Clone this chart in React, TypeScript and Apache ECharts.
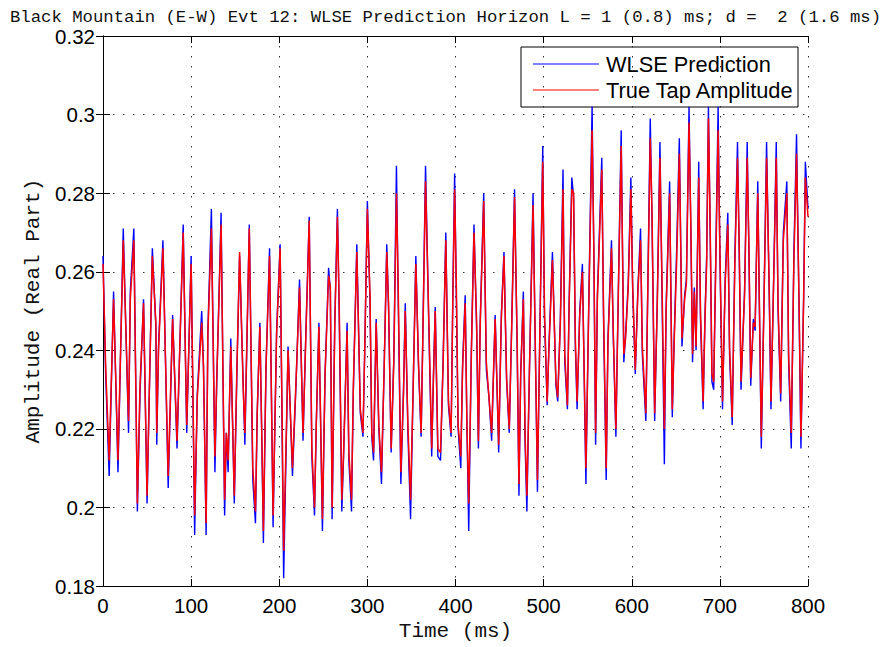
import React, { useEffect, useRef } from "react";
import * as echarts from "echarts";

const titleText = "Black Mountain (E-W) Evt 12: WLSE Prediction Horizon L = 1 (0.8) ms; d =  2 (1.6 ms)";
const xAxisName = "Time (ms)";
const yAxisName = "Amplitude (Real Part)";
const seriesNames = ["WLSE Prediction", "True Tap Amplitude"];

const timeMs = [
  0, 3, 7, 12, 17, 23, 29, 31, 35, 39,
  42, 46, 50, 53, 56, 60, 61, 63, 68, 74,
  79, 84, 91, 95, 100, 104, 107, 112, 114, 117,
  119, 123, 127, 129, 134, 138, 140, 142, 145, 149,
  152, 155, 159, 161, 166, 170, 173, 175, 178, 180,
  182, 185, 189, 193, 197, 201, 205, 208, 210, 215,
  219, 223, 227, 230, 234, 237, 240, 242, 245, 249,
  252, 256, 258, 260, 263, 266, 268, 271, 273, 277,
  279, 282, 284, 288, 292, 295, 297, 300, 303, 305,
  307, 310, 313, 316, 319, 322, 324, 327, 330, 333,
  335, 338, 341, 343, 346, 349, 352, 355, 358, 361,
  363, 366, 370, 373, 375, 377, 380, 383, 386, 389,
  392, 395, 397, 399, 401, 403, 406, 408, 411, 413,
  415, 418, 421, 424, 426, 428, 432, 435, 438, 441,
  445, 449, 452, 455, 458, 461, 464, 467, 470, 472,
  474, 477, 479, 481, 484, 488, 491, 493, 496, 499,
  501, 504, 506, 510, 514, 516, 519, 522, 524, 527,
  529, 532, 534, 536, 538, 541, 544, 548, 551, 555,
  557, 559, 561, 566, 568, 571, 573, 577, 579, 582,
  585, 588, 591, 593, 596, 599, 601, 604, 607, 610,
  612, 616, 618, 621, 623, 626, 629, 632, 634, 637,
  639, 643, 646, 648, 651, 654, 656, 657, 660, 662,
  665, 667, 669, 671, 673, 676, 678, 681, 683, 685,
  687, 689, 691, 693, 698, 700, 703, 706, 709, 711,
  714, 717, 720, 722, 724, 728, 731, 733, 735, 738,
  740, 743, 745, 747, 750, 753, 756, 758, 761, 764,
  766, 769, 772, 776, 778, 781, 784, 787, 790, 792,
  795, 797, 800,
];

const wlsePrediction = [
  0.264, 0.234, 0.208, 0.255, 0.209, 0.271, 0.219, 0.255, 0.271, 0.199,
  0.229, 0.253, 0.201, 0.234, 0.266, 0.246, 0.216, 0.241, 0.268, 0.205,
  0.249, 0.215, 0.272, 0.219, 0.264, 0.193, 0.229, 0.250, 0.236, 0.193,
  0.245, 0.276, 0.209, 0.231, 0.275, 0.198, 0.219, 0.209, 0.243, 0.201,
  0.235, 0.264, 0.232, 0.216, 0.272, 0.207, 0.196, 0.224, 0.247, 0.220,
  0.191, 0.236, 0.266, 0.195, 0.245, 0.267, 0.182, 0.217, 0.241, 0.208,
  0.231, 0.258, 0.217, 0.243, 0.274, 0.213, 0.198, 0.221, 0.247, 0.194,
  0.234, 0.261, 0.255, 0.197, 0.247, 0.276, 0.250, 0.199, 0.213, 0.247,
  0.212, 0.199, 0.229, 0.267, 0.224, 0.218, 0.240, 0.278, 0.252, 0.218,
  0.212, 0.248, 0.220, 0.206, 0.235, 0.267, 0.251, 0.214, 0.238, 0.287,
  0.253, 0.206, 0.230, 0.252, 0.219, 0.197, 0.231, 0.264, 0.236, 0.218,
  0.245, 0.287, 0.243, 0.213, 0.234, 0.251, 0.213, 0.212, 0.238, 0.270,
  0.226, 0.218, 0.255, 0.285, 0.253, 0.220, 0.210, 0.236, 0.254, 0.220,
  0.194, 0.240, 0.272, 0.245, 0.215, 0.247, 0.280, 0.235, 0.228, 0.217,
  0.249, 0.214, 0.249, 0.265, 0.232, 0.219, 0.249, 0.281, 0.240, 0.203,
  0.234, 0.255, 0.216, 0.199, 0.236, 0.280, 0.234, 0.204, 0.249, 0.292,
  0.248, 0.226, 0.241, 0.265, 0.231, 0.227, 0.248, 0.286, 0.237, 0.225,
  0.253, 0.284, 0.279, 0.241, 0.225, 0.250, 0.262, 0.206, 0.249, 0.302,
  0.264, 0.216, 0.254, 0.289, 0.248, 0.207, 0.243, 0.268, 0.244, 0.218,
  0.258, 0.296, 0.237, 0.244, 0.257, 0.284, 0.256, 0.234, 0.256, 0.271,
  0.239, 0.222, 0.253, 0.299, 0.273, 0.222, 0.253, 0.293, 0.260, 0.211,
  0.251, 0.283, 0.223, 0.242, 0.266, 0.294, 0.259, 0.241, 0.254, 0.258,
  0.302, 0.271, 0.237, 0.256, 0.240, 0.288, 0.248, 0.225, 0.248, 0.264,
  0.302, 0.270, 0.232, 0.230, 0.302, 0.264, 0.225, 0.258, 0.275, 0.239,
  0.221, 0.264, 0.293, 0.264, 0.230, 0.255, 0.293, 0.264, 0.231, 0.248,
  0.245, 0.283, 0.248, 0.215, 0.252, 0.293, 0.254, 0.225, 0.258, 0.293,
  0.250, 0.227, 0.270, 0.283, 0.237, 0.215, 0.265, 0.295, 0.248, 0.215,
  0.253, 0.288, 0.276,
];

const trueTapAmplitude = [
  0.262, 0.236, 0.212, 0.253, 0.212, 0.268, 0.222, 0.253, 0.268, 0.201,
  0.231, 0.252, 0.203, 0.234, 0.264, 0.247, 0.219, 0.240, 0.266, 0.208,
  0.248, 0.217, 0.270, 0.221, 0.262, 0.198, 0.228, 0.247, 0.236, 0.196,
  0.244, 0.271, 0.213, 0.232, 0.272, 0.202, 0.219, 0.212, 0.241, 0.203,
  0.236, 0.265, 0.231, 0.219, 0.271, 0.210, 0.199, 0.224, 0.246, 0.221,
  0.194, 0.236, 0.264, 0.198, 0.244, 0.266, 0.189, 0.219, 0.240, 0.210,
  0.232, 0.256, 0.219, 0.242, 0.273, 0.215, 0.200, 0.221, 0.246, 0.197,
  0.234, 0.259, 0.256, 0.200, 0.246, 0.274, 0.252, 0.202, 0.214, 0.245,
  0.214, 0.202, 0.230, 0.265, 0.225, 0.219, 0.240, 0.276, 0.254, 0.219,
  0.214, 0.247, 0.221, 0.209, 0.235, 0.265, 0.252, 0.215, 0.237, 0.280,
  0.256, 0.209, 0.229, 0.250, 0.221, 0.202, 0.231, 0.262, 0.237, 0.219,
  0.244, 0.283, 0.245, 0.215, 0.233, 0.250, 0.215, 0.214, 0.237, 0.268,
  0.227, 0.219, 0.253, 0.281, 0.256, 0.221, 0.213, 0.235, 0.252, 0.221,
  0.201, 0.239, 0.270, 0.247, 0.217, 0.246, 0.278, 0.237, 0.228, 0.219,
  0.248, 0.216, 0.248, 0.264, 0.233, 0.220, 0.248, 0.279, 0.242, 0.206,
  0.234, 0.253, 0.218, 0.203, 0.236, 0.277, 0.235, 0.207, 0.248, 0.288,
  0.250, 0.227, 0.240, 0.263, 0.232, 0.228, 0.247, 0.281, 0.239, 0.226,
  0.252, 0.281, 0.280, 0.243, 0.227, 0.249, 0.260, 0.210, 0.248, 0.296,
  0.266, 0.219, 0.253, 0.286, 0.250, 0.210, 0.242, 0.266, 0.245, 0.220,
  0.257, 0.292, 0.239, 0.243, 0.256, 0.281, 0.257, 0.235, 0.255, 0.268,
  0.241, 0.224, 0.252, 0.294, 0.275, 0.224, 0.252, 0.289, 0.262, 0.220,
  0.250, 0.280, 0.225, 0.241, 0.263, 0.290, 0.261, 0.243, 0.253, 0.257,
  0.298, 0.273, 0.239, 0.255, 0.241, 0.284, 0.250, 0.227, 0.247, 0.262,
  0.299, 0.272, 0.234, 0.232, 0.296, 0.266, 0.227, 0.257, 0.272, 0.241,
  0.223, 0.262, 0.289, 0.266, 0.232, 0.254, 0.289, 0.266, 0.233, 0.247,
  0.246, 0.280, 0.250, 0.218, 0.251, 0.289, 0.256, 0.227, 0.257, 0.289,
  0.252, 0.229, 0.268, 0.280, 0.239, 0.219, 0.263, 0.290, 0.250, 0.218,
  0.252, 0.284, 0.274,
];

const X_MIN = 0;
const X_MAX = 800;
const X_STEP = 100;
const Y_MIN = 0.18;
const Y_MAX = 0.32;
const Y_STEP = 0.02;

const MONO = "'Liberation Mono', 'DejaVu Sans Mono', monospace";
const SANS = "'Liberation Sans', Arial, sans-serif";

export default function App() {
  const ref = useRef<HTMLDivElement>(null);

  useEffect(() => {
    if (!ref.current) return;
    const chart = echarts.init(ref.current, undefined, { renderer: "svg" });

    const pairs = (vals: number[]) => timeMs.map((t, i) => [t, vals[i]]);

    const gridLine = {
      show: true,
      lineStyle: { color: "#333", width: 1, type: [1.5, 8.5] as any },
    };
    const axisLineStyle = { show: true, lineStyle: { color: "#000", width: 1 } };
    const tickStyle = { show: true, inside: true, length: 7, lineStyle: { color: "#000", width: 1 } };

    const yFmt = (v: number) => String(Number(v.toFixed(2)));

    const legendX = 521;
    const legendY = 47;

    chart.setOption({
      animation: false,
      backgroundColor: "#fff",
      title: {
        text: titleText,
        left: "center",
        top: 2,
        textStyle: {
          fontFamily: MONO,
          fontSize: 17.3,
          fontWeight: "normal",
          color: "#111",
          lineHeight: 20,
        },
      },
      grid: { left: 103, top: 36, width: 705, height: 555, containLabel: false },
      xAxis: [
        {
          type: "value",
          min: X_MIN,
          max: X_MAX,
          interval: X_STEP,
          position: "bottom",
          name: xAxisName,
          nameLocation: "middle",
          nameGap: 31,
          nameTextStyle: { fontFamily: MONO, fontSize: 21, color: "#111" },
          axisLine: axisLineStyle,
          axisTick: tickStyle,
          axisLabel: { fontFamily: SANS, fontSize: 20.5, color: "#000", margin: 9 },
          splitLine: gridLine,
        },
        {
          type: "value",
          min: X_MIN,
          max: X_MAX,
          interval: X_STEP,
          position: "top",
          axisLine: axisLineStyle,
          axisTick: tickStyle,
          axisLabel: { show: false },
          splitLine: { show: false },
        },
      ],
      yAxis: [
        {
          type: "value",
          min: Y_MIN,
          max: Y_MAX,
          interval: Y_STEP,
          position: "left",
          name: yAxisName,
          nameLocation: "middle",
          nameGap: 53,
          nameTextStyle: { fontFamily: MONO, fontSize: 21, color: "#111" },
          axisLine: axisLineStyle,
          axisTick: tickStyle,
          axisLabel: { fontFamily: SANS, fontSize: 20.5, color: "#000", margin: 8, formatter: yFmt },
          splitLine: gridLine,
        },
        {
          type: "value",
          min: Y_MIN,
          max: Y_MAX,
          interval: Y_STEP,
          position: "right",
          axisLine: axisLineStyle,
          axisTick: tickStyle,
          axisLabel: { show: false },
          splitLine: { show: false },
        },
      ],
      series: [
        {
          name: seriesNames[0],
          type: "line",
          data: pairs(wlsePrediction),
          showSymbol: false,
          symbol: "none",
          lineStyle: { color: "#0000ff", width: 1.4 },
          itemStyle: { color: "#0000ff" },
          z: 2,
        },
        {
          name: seriesNames[1],
          type: "line",
          data: pairs(trueTapAmplitude),
          showSymbol: false,
          symbol: "none",
          lineStyle: { color: "#ff0000", width: 1.5 },
          itemStyle: { color: "#ff0000" },
          z: 3,
        },
      ],
      graphic: [
        {
          type: "group",
          z: 100,
          children: [
            {
              type: "rect",
              shape: { x: legendX, y: legendY, width: 277, height: 60 },
              style: { fill: "#fff", stroke: "#000", lineWidth: 1 },
            },
            {
              type: "line",
              shape: { x1: legendX + 12, y1: legendY + 17, x2: legendX + 78, y2: legendY + 17 },
              style: { stroke: "#0000ff", lineWidth: 1.2 },
            },
            {
              type: "text",
              x: legendX + 85,
              y: legendY + 17,
              style: {
                text: seriesNames[0],
                fontFamily: SANS,
                fontSize: 21.8,
                fill: "#000",
                verticalAlign: "middle",
                align: "left",
              },
            },
            {
              type: "line",
              shape: { x1: legendX + 12, y1: legendY + 43, x2: legendX + 78, y2: legendY + 43 },
              style: { stroke: "#ff0000", lineWidth: 1.2 },
            },
            {
              type: "text",
              x: legendX + 85,
              y: legendY + 43,
              style: {
                text: seriesNames[1],
                fontFamily: SANS,
                fontSize: 21.8,
                fill: "#000",
                verticalAlign: "middle",
                align: "left",
              },
            },
          ],
        },
      ],
    });

    return () => chart.dispose();
  }, []);

  return (
    <div
      ref={ref}
      style={{ position: "absolute", left: 0, top: 0, width: 891, height: 647, background: "#fff" }}
    />
  );
}
